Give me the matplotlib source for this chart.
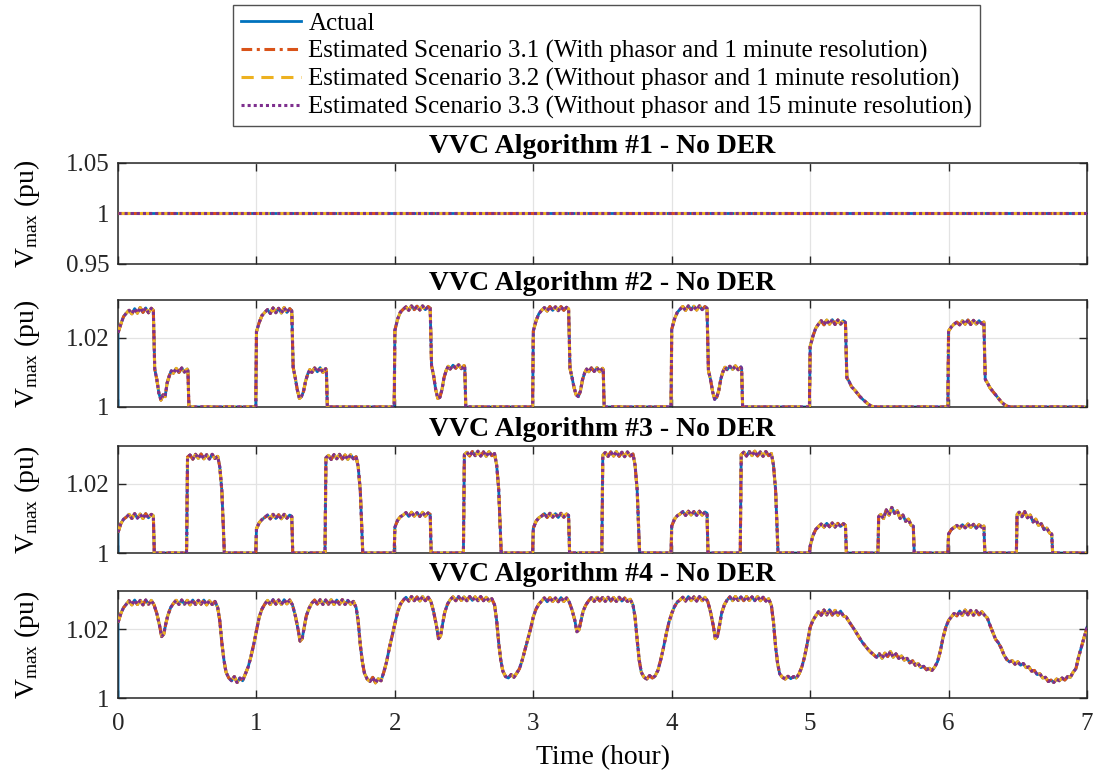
import matplotlib
matplotlib.use("Agg")
import matplotlib.pyplot as plt
from matplotlib.ticker import FuncFormatter

# ---------------- DATA ----------------
hours = [0, 1, 2, 3, 4, 5, 6]
series_labels = ["Actual",
                 "Estimated Scenario 3.1 (With phasor and 1 minute resolution)",
                 "Estimated Scenario 3.2 (Without phasor and 1 minute resolution)",
                 "Estimated Scenario 3.3 (Without phasor and 15 minute resolution)"]
titles = ["VVC Algorithm #1 - No DER", "VVC Algorithm #2 - No DER",
          "VVC Algorithm #3 - No DER", "VVC Algorithm #4 - No DER"]
x_ticks = [0, 1, 2, 3, 4, 5, 6, 7]
actual_start_value = 1.0   # actual trace starts at 1.0 pu at t = 0

# Algorithm 1: flat
alg1_t = [0.0, 7.0]
alg1_v = [1.0, 1.0]

# Algorithm 2: time offsets within each hour
alg2_offs_a = [0.00, 0.02, 0.04, 0.06, 0.08, 0.10, 0.12, 0.14, 0.16, 0.18, 0.20, 0.22, 0.24, 0.255,
               0.265, 0.28, 0.295, 0.31, 0.325, 0.34, 0.355, 0.37, 0.385, 0.40,
               0.42, 0.44, 0.46, 0.48, 0.50, 0.505, 0.512, 0.75, 0.995]
alg2_offs_b = [0.00, 0.02, 0.04, 0.06, 0.08, 0.10, 0.12, 0.14, 0.16, 0.18, 0.20, 0.22, 0.24, 0.255,
               0.265, 0.28, 0.30, 0.32, 0.34, 0.36, 0.38, 0.40, 0.42, 0.44, 0.46, 0.75, 0.995]
alg2_h0 = [1.0215, 1.0240, 1.0262, 1.0272, 1.0280, 1.0270, 1.0285, 1.0272, 1.0288, 1.0274, 1.0287, 1.0273, 1.0286, 1.0280,
           1.0110, 1.0080, 1.0040, 1.0020, 1.0035, 1.0030, 1.0070, 1.0090, 1.0105, 1.0098,
           1.0112, 1.0100, 1.0113, 1.0101, 1.0110, 1.0105, 1.0, 1.0, 1.0]
alg2_h1 = [1.0218, 1.0245, 1.0265, 1.0274, 1.0282, 1.0271, 1.0287, 1.0273, 1.0286, 1.0272, 1.0288, 1.0274, 1.0285, 1.0279,
           1.0115, 1.0085, 1.0050, 1.0025, 1.0030, 1.0045, 1.0075, 1.0095, 1.0108, 1.0100,
           1.0113, 1.0102, 1.0114, 1.0100, 1.0111, 1.0106, 1.0, 1.0, 1.0]
alg2_h2 = [1.0222, 1.0255, 1.0275, 1.0283, 1.0290, 1.0280, 1.0293, 1.0282, 1.0292, 1.0281, 1.0293, 1.0282, 1.0291, 1.0286,
           1.0120, 1.0090, 1.0050, 1.0025, 1.0028, 1.0050, 1.0085, 1.0105, 1.0118, 1.0110,
           1.0121, 1.0112, 1.0122, 1.0111, 1.0120, 1.0115, 1.0, 1.0, 1.0]
alg2_h3 = [1.0220, 1.0250, 1.0270, 1.0280, 1.0288, 1.0278, 1.0291, 1.0280, 1.0290, 1.0279, 1.0291, 1.0280, 1.0289, 1.0284,
           1.0112, 1.0085, 1.0055, 1.0035, 1.0030, 1.0045, 1.0078, 1.0098, 1.0110, 1.0102,
           1.0113, 1.0103, 1.0114, 1.0102, 1.0112, 1.0108, 1.0, 1.0, 1.0]
alg2_h4 = [1.0225, 1.0255, 1.0274, 1.0283, 1.0291, 1.0280, 1.0293, 1.0282, 1.0292, 1.0281, 1.0293, 1.0282, 1.0291, 1.0286,
           1.0106, 1.0080, 1.0045, 1.0022, 1.0028, 1.0048, 1.0082, 1.0102, 1.0115, 1.0108,
           1.0118, 1.0109, 1.0119, 1.0108, 1.0116, 1.0112, 1.0, 1.0, 1.0]
alg2_h5 = [1.0175, 1.0205, 1.0228, 1.0240, 1.0250, 1.0238, 1.0252, 1.0240, 1.0253, 1.0239, 1.0252, 1.0240, 1.0250, 1.0245,
           1.0085, 1.0075, 1.0058, 1.0050, 1.0040, 1.0030, 1.0022, 1.0015, 1.0008, 1.0003, 1.0, 1.0, 1.0]
alg2_h6 = [1.0220, 1.0232, 1.0240, 1.0246, 1.0238, 1.0250, 1.0240, 1.0252, 1.0239, 1.0251, 1.0240, 1.0250, 1.0241, 1.0246,
           1.0080, 1.0070, 1.0055, 1.0045, 1.0035, 1.0025, 1.0015, 1.0008, 1.0003, 1.0, 1.0, 1.0, 1.0]

# Algorithm 3
alg3_offs_a = [0.00, 0.02, 0.04, 0.06, 0.08, 0.10, 0.12, 0.14, 0.16, 0.18, 0.20, 0.22, 0.24, 0.255,
               0.262, 0.495, 0.502, 0.52, 0.54, 0.56, 0.58, 0.60, 0.62, 0.64, 0.66, 0.68, 0.70, 0.72,
               0.735, 0.75, 0.76, 0.768, 0.995]
alg3_offs_b = [0.00, 0.02, 0.04, 0.06, 0.08, 0.10, 0.12, 0.14, 0.16, 0.18, 0.20, 0.22, 0.24, 0.255,
               0.262, 0.49, 0.495, 0.51, 0.53, 0.55, 0.57, 0.59, 0.61, 0.63, 0.65, 0.67, 0.69, 0.71, 0.73,
               0.745, 0.752, 0.995]
alg3_h0 = [1.0060, 1.0085, 1.0098, 1.0104, 1.0112, 1.0100, 1.0114, 1.0101, 1.0113, 1.0100, 1.0114, 1.0102, 1.0112, 1.0108,
           1.0, 1.0, 1.0278, 1.0284, 1.0272, 1.0286, 1.0274, 1.0287, 1.0273, 1.0285, 1.0272, 1.0286, 1.0274, 1.0280,
           1.0250, 1.0180, 1.0080, 1.0, 1.0]
alg3_h1 = [1.0070, 1.0088, 1.0097, 1.0103, 1.0110, 1.0099, 1.0112, 1.0100, 1.0111, 1.0099, 1.0112, 1.0101, 1.0110, 1.0106,
           1.0, 1.0, 1.0276, 1.0283, 1.0271, 1.0285, 1.0273, 1.0286, 1.0272, 1.0284, 1.0271, 1.0285, 1.0273, 1.0279,
           1.0250, 1.0180, 1.0080, 1.0, 1.0]
alg3_h2 = [1.0075, 1.0095, 1.0105, 1.0110, 1.0117, 1.0106, 1.0118, 1.0107, 1.0117, 1.0106, 1.0118, 1.0107, 1.0116, 1.0112,
           1.0, 1.0, 1.0285, 1.0292, 1.0281, 1.0294, 1.0282, 1.0295, 1.0281, 1.0293, 1.0280, 1.0294, 1.0282, 1.0288,
           1.0255, 1.0185, 1.0085, 1.0, 1.0]
alg3_h3 = [1.0072, 1.0092, 1.0102, 1.0107, 1.0114, 1.0103, 1.0115, 1.0104, 1.0114, 1.0103, 1.0115, 1.0104, 1.0113, 1.0109,
           1.0, 1.0, 1.0284, 1.0291, 1.0280, 1.0293, 1.0281, 1.0294, 1.0280, 1.0292, 1.0279, 1.0293, 1.0281, 1.0287,
           1.0255, 1.0185, 1.0085, 1.0, 1.0]
alg3_h4 = [1.0078, 1.0098, 1.0108, 1.0113, 1.0120, 1.0109, 1.0121, 1.0110, 1.0120, 1.0109, 1.0121, 1.0110, 1.0119, 1.0115,
           1.0, 1.0, 1.0285, 1.0292, 1.0281, 1.0294, 1.0282, 1.0295, 1.0281, 1.0293, 1.0280, 1.0294, 1.0282, 1.0288,
           1.0255, 1.0185, 1.0085, 1.0, 1.0]
alg3_h5 = [1.0020, 1.0050, 1.0068, 1.0076, 1.0084, 1.0075, 1.0086, 1.0076, 1.0087, 1.0075, 1.0086, 1.0077, 1.0085, 1.0080,
           1.0, 1.0, 1.0105, 1.0112, 1.0100, 1.0125, 1.0110, 1.0132, 1.0115, 1.0122, 1.0100, 1.0110, 1.0092, 1.0098, 1.0080,
           1.0078, 1.0, 1.0]
alg3_h6 = [1.0055, 1.0068, 1.0074, 1.0080, 1.0072, 1.0082, 1.0073, 1.0084, 1.0074, 1.0083, 1.0072, 1.0082, 1.0075, 1.0078,
           1.0, 1.0, 1.0112, 1.0118, 1.0105, 1.0120, 1.0102, 1.0110, 1.0090, 1.0098, 1.0080, 1.0085, 1.0068, 1.0072, 1.0058,
           1.0055, 1.0, 1.0]

# Algorithm 4
alg4_offs_a = [0.00, 0.02, 0.04, 0.06, 0.08, 0.10, 0.12, 0.14, 0.16, 0.18, 0.20, 0.22, 0.24, 0.26, 0.28, 0.30,
               0.315, 0.33, 0.345,
               0.36, 0.38, 0.40, 0.42, 0.44, 0.46, 0.48, 0.50, 0.52, 0.54, 0.56, 0.58, 0.60, 0.62, 0.64, 0.66, 0.68, 0.70, 0.72,
               0.735, 0.75, 0.765, 0.78,
               0.80, 0.82, 0.84, 0.86, 0.88, 0.90, 0.92, 0.94, 0.96, 0.98]
alg4_offs_b = [0.00, 0.02, 0.04, 0.06, 0.08, 0.10, 0.12, 0.14, 0.16, 0.18, 0.20, 0.22, 0.24, 0.26, 0.28, 0.30,
               0.32, 0.34, 0.36, 0.38, 0.40, 0.42, 0.44, 0.46, 0.48, 0.50, 0.52, 0.54, 0.56, 0.58, 0.60, 0.62,
               0.64, 0.66, 0.68, 0.70, 0.72, 0.74, 0.76, 0.78, 0.80, 0.82, 0.84, 0.86, 0.88, 0.90, 0.92, 0.94,
               0.96, 0.98]
alg4_h0 = [1.0219, 1.0245, 1.0262, 1.0272, 1.0282, 1.0270, 1.0284, 1.0271, 1.0283, 1.0270, 1.0284, 1.0272, 1.0283, 1.0270, 1.0245, 1.0210,
           1.0178, 1.0185, 1.0215,
           1.0240, 1.0262, 1.0274, 1.0283, 1.0271, 1.0284, 1.0272, 1.0283, 1.0270, 1.0284, 1.0271, 1.0283, 1.0272, 1.0284, 1.0270, 1.0282, 1.0271, 1.0280, 1.0262,
           1.0224, 1.0160, 1.0110, 1.0075,
           1.0058, 1.0050, 1.0062, 1.0045, 1.0058, 1.0050, 1.0070, 1.0090, 1.0120, 1.0155]
alg4_h1 = [1.0195, 1.0235, 1.0258, 1.0272, 1.0283, 1.0271, 1.0285, 1.0272, 1.0284, 1.0271, 1.0285, 1.0273, 1.0284, 1.0270, 1.0240, 1.0200,
           1.0165, 1.0172, 1.0205,
           1.0238, 1.0260, 1.0275, 1.0284, 1.0272, 1.0285, 1.0271, 1.0284, 1.0272, 1.0285, 1.0271, 1.0284, 1.0272, 1.0285, 1.0271, 1.0283, 1.0272, 1.0280, 1.0262,
           1.0222, 1.0155, 1.0105, 1.0072,
           1.0055, 1.0048, 1.0060, 1.0044, 1.0056, 1.0050, 1.0075, 1.0105, 1.0145, 1.0180]
alg4_h2 = [1.0215, 1.0250, 1.0272, 1.0283, 1.0292, 1.0281, 1.0294, 1.0282, 1.0293, 1.0281, 1.0294, 1.0282, 1.0292, 1.0280, 1.0250, 1.0210,
           1.0172, 1.0180, 1.0215,
           1.0248, 1.0272, 1.0285, 1.0293, 1.0282, 1.0294, 1.0283, 1.0293, 1.0282, 1.0294, 1.0283, 1.0293, 1.0282, 1.0294, 1.0282, 1.0292, 1.0281, 1.0288, 1.0270,
           1.0225, 1.0160, 1.0110, 1.0078,
           1.0062, 1.0058, 1.0068, 1.0060, 1.0072, 1.0085, 1.0110, 1.0140, 1.0170, 1.0200]
alg4_h3 = [1.0235, 1.0258, 1.0272, 1.0281, 1.0290, 1.0279, 1.0291, 1.0280, 1.0290, 1.0279, 1.0291, 1.0280, 1.0290, 1.0278, 1.0255, 1.0225,
           1.0192, 1.0198, 1.0225,
           1.0252, 1.0270, 1.0282, 1.0291, 1.0280, 1.0292, 1.0281, 1.0291, 1.0280, 1.0292, 1.0281, 1.0291, 1.0280, 1.0292, 1.0281, 1.0290, 1.0280, 1.0286, 1.0270,
           1.0235, 1.0170, 1.0110, 1.0075,
           1.0060, 1.0055, 1.0065, 1.0058, 1.0064, 1.0080, 1.0110, 1.0145, 1.0185, 1.0220]
alg4_h4 = [1.0245, 1.0265, 1.0278, 1.0284, 1.0292, 1.0281, 1.0294, 1.0282, 1.0293, 1.0281, 1.0294, 1.0282, 1.0292, 1.0280, 1.0250, 1.0210,
           1.0172, 1.0178, 1.0210,
           1.0245, 1.0270, 1.0284, 1.0293, 1.0282, 1.0294, 1.0283, 1.0293, 1.0282, 1.0294, 1.0283, 1.0293, 1.0282, 1.0294, 1.0282, 1.0292, 1.0281, 1.0288, 1.0268,
           1.0220, 1.0150, 1.0100, 1.0070,
           1.0060, 1.0055, 1.0063, 1.0056, 1.0062, 1.0058, 1.0070, 1.0090, 1.0120, 1.0160]
alg4_h5 = [1.0205, 1.0225, 1.0238, 1.0250, 1.0240, 1.0255, 1.0241, 1.0256, 1.0240, 1.0254, 1.0240, 1.0252, 1.0238, 1.0235,
           1.0222, 1.0210, 1.0198, 1.0185, 1.0172, 1.0160, 1.0150, 1.0140, 1.0132, 1.0125, 1.0118, 1.0128, 1.0115, 1.0130,
           1.0120, 1.0135, 1.0118, 1.0128, 1.0115, 1.0122, 1.0110, 1.0115, 1.0102, 1.0108, 1.0095, 1.0100, 1.0088, 1.0092,
           1.0082, 1.0086, 1.0080, 1.0090, 1.0105, 1.0135, 1.0175, 1.0205]
alg4_h6 = [1.0225, 1.0235, 1.0245, 1.0238, 1.0252, 1.0240, 1.0255, 1.0241, 1.0254, 1.0240, 1.0253, 1.0241, 1.0250, 1.0240,
           1.0232, 1.0210, 1.0190, 1.0170, 1.0160, 1.0145, 1.0125, 1.0112, 1.0105, 1.0108, 1.0098, 1.0105, 1.0095, 1.0100,
           1.0088, 1.0090, 1.0078, 1.0080, 1.0068, 1.0070, 1.0058, 1.0060, 1.0048, 1.0052, 1.0045, 1.0055, 1.0050, 1.0058,
           1.0052, 1.0062, 1.0060, 1.0075, 1.0085, 1.0120, 1.0148, 1.0175]
alg4_end_t = 7.0
alg4_end_v = 1.0205


def build(offsets, values):
    t, v = [], []
    for h, offs, vals in zip(hours, offsets, values):
        t += [h + o for o in offs]
        v += list(vals)
    return t, v


alg2_t, alg2_v = build([alg2_offs_a] * 5 + [alg2_offs_b] * 2,
                       [alg2_h0, alg2_h1, alg2_h2, alg2_h3, alg2_h4, alg2_h5, alg2_h6])
alg3_t, alg3_v = build([alg3_offs_a] * 5 + [alg3_offs_b] * 2,
                       [alg3_h0, alg3_h1, alg3_h2, alg3_h3, alg3_h4, alg3_h5, alg3_h6])
alg4_t, alg4_v = build([alg4_offs_a] * 5 + [alg4_offs_b] * 2,
                       [alg4_h0, alg4_h1, alg4_h2, alg4_h3, alg4_h4, alg4_h5, alg4_h6])
alg4_t.append(alg4_end_t)
alg4_v.append(alg4_end_v)

panels = [(alg1_t, alg1_v, (0.95, 1.05), [0.95, 1.0, 1.05], False),
          (alg2_t, alg2_v, (1.0, 1.031), [1.0, 1.02], True),
          (alg3_t, alg3_v, (1.0, 1.031), [1.0, 1.02], True),
          (alg4_t, alg4_v, (1.0, 1.031), [1.0, 1.02], True)]

# ---------------- STYLE ----------------
plt.rcParams['font.family'] = ['Liberation Serif', 'DejaVu Serif']
plt.rcParams['mathtext.fontset'] = 'custom'
plt.rcParams['mathtext.rm'] = 'Liberation Serif'
plt.rcParams['mathtext.it'] = 'Liberation Serif'

colors = ['#0072BD', '#D95319', '#EDB120', '#7E2F8E']
styles = ['-', (0, (3.5, 1.5, 1, 1.5)), (0, (4, 2.5)), (0, (1, 1))]
widths = [2.0, 2.2, 2.2, 2.2]
TICK_FS = 18
LABEL_FS = 20
TITLE_FS = 20

fig = plt.figure(figsize=(10.93, 7.78), dpi=100)
left, width = 0.108, 0.8865
rects = [(0.6607, 0.1298), (0.4769, 0.1375), (0.2892, 0.1375), (0.1028, 0.1375)]

axes = []
for i, ((t, v, ylim, yt, start_pt), (b, hgt)) in enumerate(zip(panels, rects)):
    ax = fig.add_axes([left, b, width, hgt])
    axes.append(ax)
    for k in range(4):
        if k == 0 and start_pt:
            tt = [0.0] + t
            vv = [actual_start_value] + v
        else:
            tt, vv = t, v
        ax.plot(tt, vv, color=colors[k], linestyle=styles[k], lw=widths[k],
                label=series_labels[k], zorder=2 + k)
    ax.set_xlim(0, 7)
    ax.set_ylim(*ylim)
    ax.set_xticks(x_ticks)
    ax.set_yticks(yt)
    ax.yaxis.set_major_formatter(FuncFormatter(lambda y, p: '%g' % y))
    ax.grid(True, color='#e3e3e3', lw=0.9, zorder=0)
    ax.set_axisbelow(True)
    ax.tick_params(direction='in', top=True, right=True, length=6, width=1,
                   labelsize=TICK_FS, colors='#262626')
    ax.tick_params(axis='y', pad=6)
    ax.tick_params(axis='x', pad=11)
    for s in ax.spines.values():
        s.set_color('#262626')
        s.set_linewidth(1.1)
    if i < 3:
        ax.set_xticklabels([])
    ax.set_title(titles[i], fontsize=TITLE_FS, fontweight='bold', pad=7)
    ax.set_ylabel(r'V$_{\mathregular{max}}$ (pu)', fontsize=LABEL_FS)
    ax.yaxis.set_label_coords(-0.078, 0.5)

axes[3].set_xlabel('Time (hour)', fontsize=LABEL_FS, labelpad=7)

handles, labels = axes[0].get_legend_handles_labels()
leg = fig.legend(handles, labels, loc='upper center', bbox_to_anchor=(0.555, 0.994),
                 fontsize=18, frameon=True, fancybox=False, edgecolor='#262626',
                 handlelength=2.4, handletextpad=0.3, labelspacing=0.2, borderpad=0.3,
                 borderaxespad=0)
leg.get_frame().set_linewidth(1.0)

fig.savefig('out.png', dpi=100)
